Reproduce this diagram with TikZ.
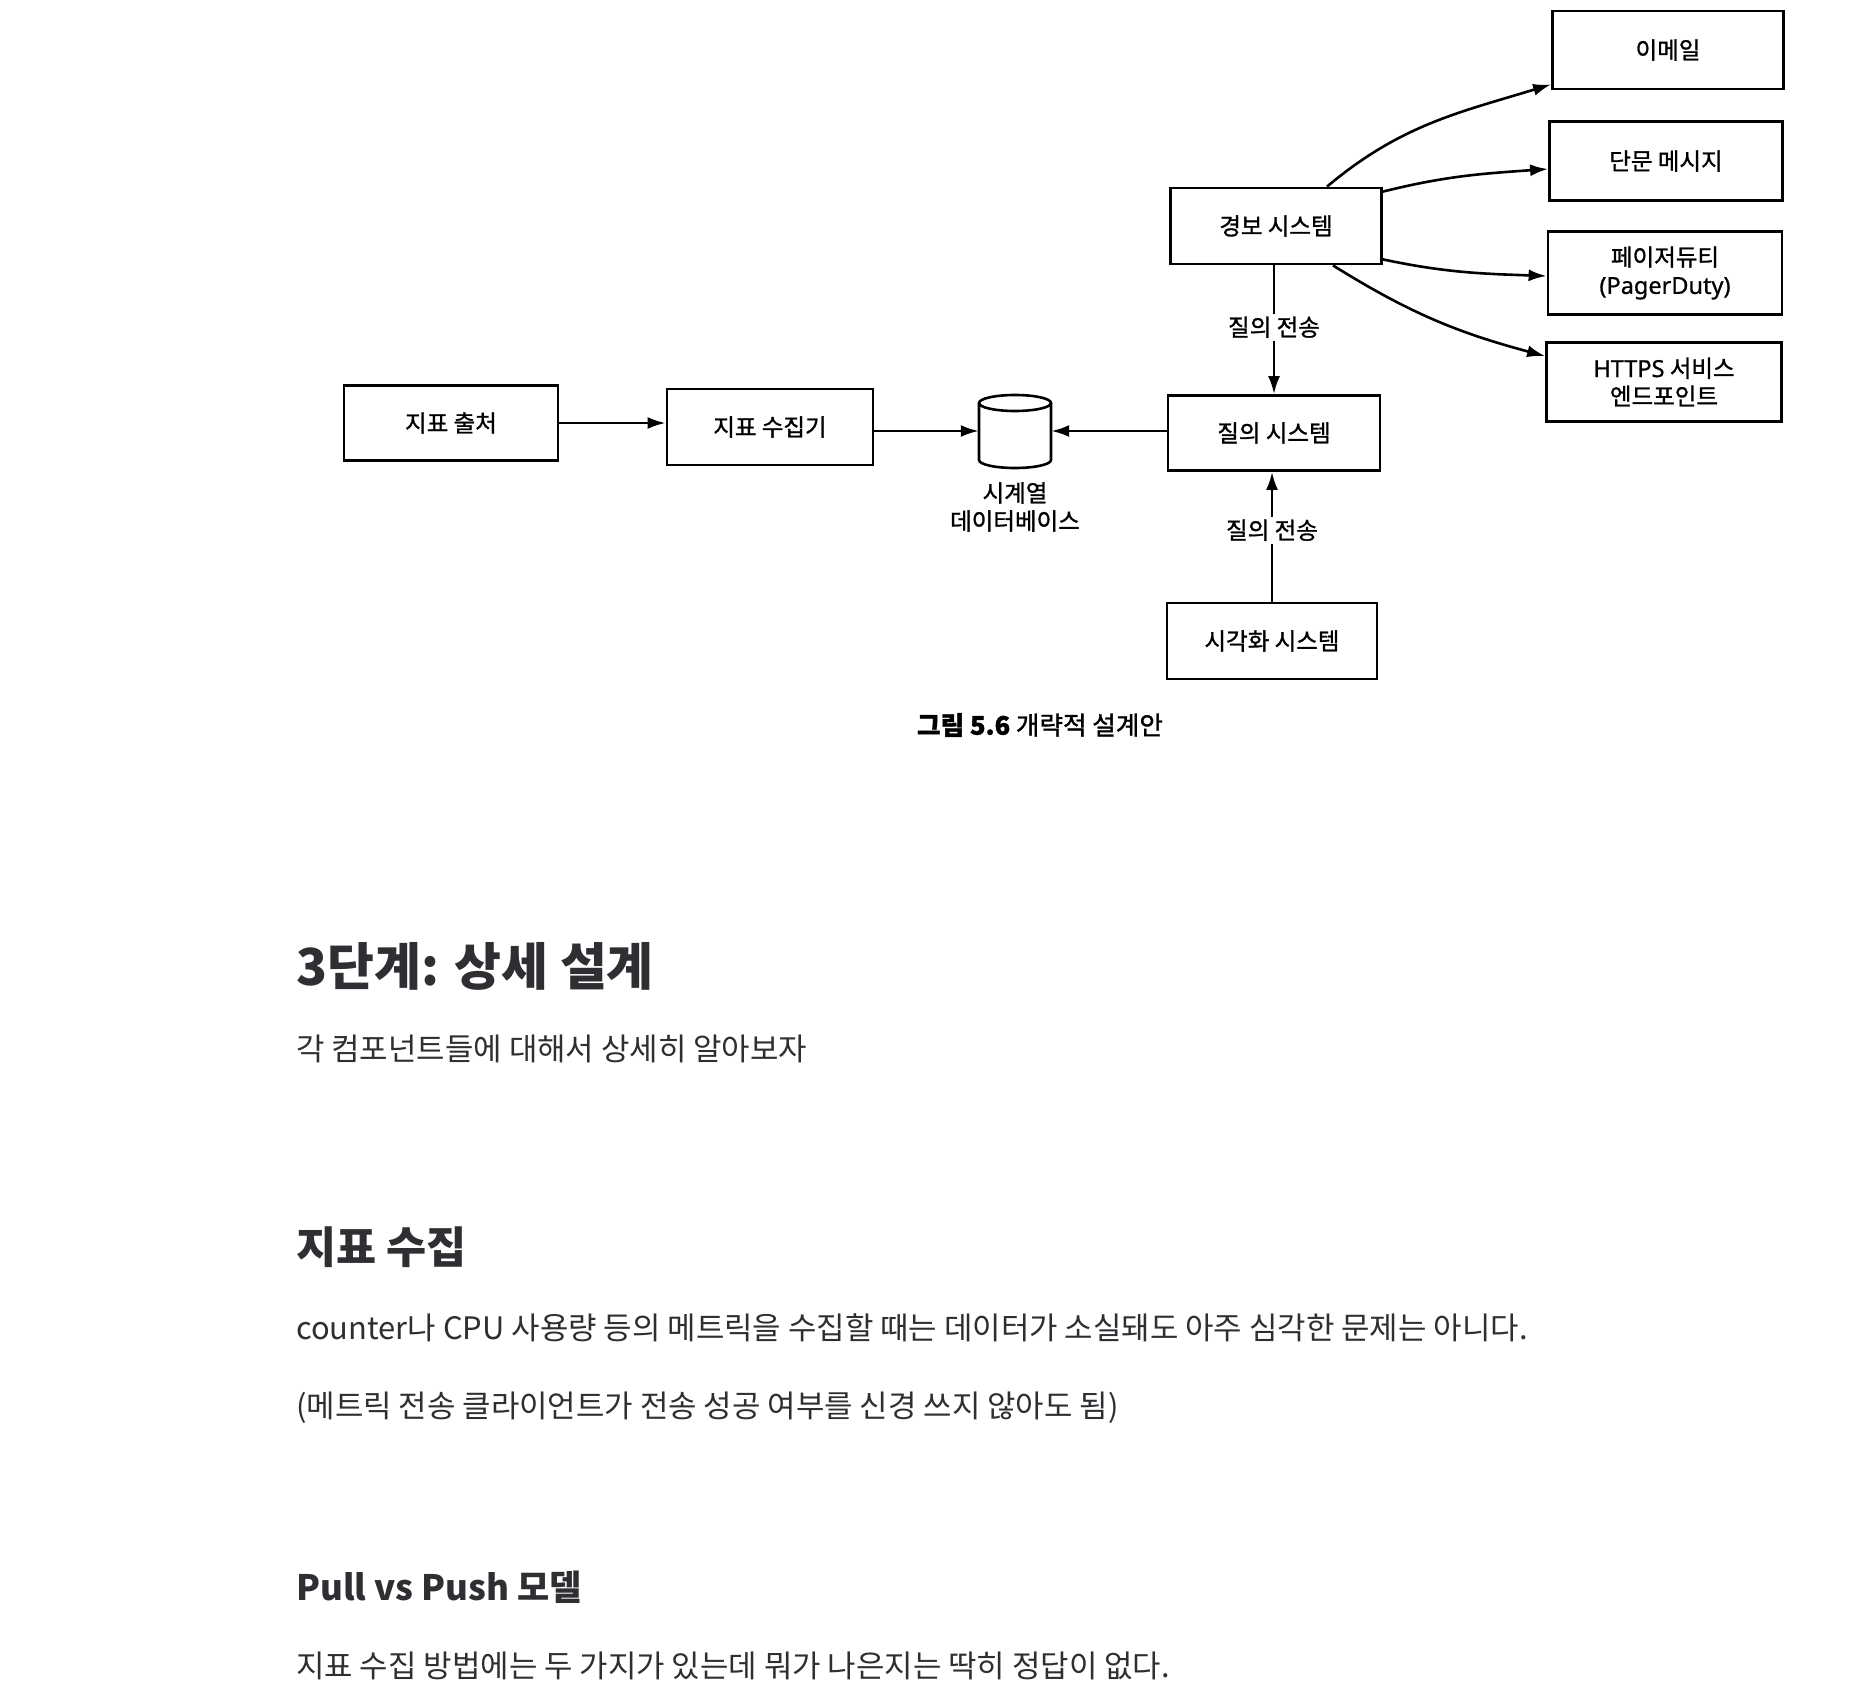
\documentclass[tikz,border=0pt]{standalone}
\usepackage{fontspec}
\setmainfont{Noto Sans CJK KR}
\newfontfamily\dfam[FakeBold=1.2]{Noto Sans CJK KR}
\newfontfamily\dlat[FakeBold=0.8]{Noto Sans}
\usetikzlibrary{arrows.meta}
\definecolor{bodytxt}{HTML}{2E2E33}
\newcommand\dfont{\dfam\fontsize{23.5}{28}\selectfont}
\newcommand\bodyfont{\fontsize{30.9}{36}\selectfont}
\begin{document}
\begin{tikzpicture}[x=1pt,y=1pt,
  box/.style={draw, line width=2.8pt, inner sep=0pt, font=\dfont, align=center},
  arr/.style={line width=2.6pt, -{Latex[length=18pt,width=12pt]}},
  lbl/.style={fill=white, inner sep=3pt, font=\dfont},
  bodytext/.style={anchor=base west, inner sep=0pt, text=bodytxt}]
\useasboundingbox[fill=white] (0,0) rectangle (1854,-1696);

% diagram nodes
\node[box, minimum width=214pt, minimum height=75pt] (src) at (451,-423) {지표 출처};
\node[box, minimum width=206pt, minimum height=76pt] (coll) at (770,-427) {지표 수집기};
\node[minimum width=72pt, minimum height=73pt, inner sep=0pt] (db) at (1015,-431) {};
\node[font=\dfont, align=center, inner sep=0pt] (dblabel) at (1015,-507) {시계열\\데이터베이스};
\node[box, minimum width=212pt, minimum height=75pt] (query) at (1274,-433) {질의 시스템};
\node[box, minimum width=211pt, minimum height=76pt] (alert) at (1276,-226) {경보 시스템};
\node[box, minimum width=210pt, minimum height=76pt] (viz) at (1272,-641) {시각화 시스템};
\node[box, minimum width=231pt, minimum height=78pt] (email) at (1668,-50) {이메일};
\node[box, minimum width=233pt, minimum height=79pt] (sms) at (1666,-161) {단문 메시지};
\node[box, minimum width=234pt, minimum height=83pt] (pager) at (1665,-273) {페이저듀티\\{\dlat(PagerDuty)}};
\node[box, minimum width=235pt, minimum height=79pt] (https) at (1664,-382) {{\dlat HTTPS} 서비스\\엔드포인트};

% cylinder
\draw[line width=2.6pt] (1015,-403) ellipse [x radius=36, y radius=8];
\draw[line width=2.6pt] (979,-403) -- (979,-460) arc[start angle=180, end angle=360, x radius=36, y radius=8] -- (1051,-403);

% connectors
\draw[arr] (src.east) -- (coll.west |- src.east);
\draw[arr] (coll.east |- db.west) -- (db.west);
\draw[arr] (query.west |- db.east) -- (db.east);
\draw[arr] (query.north |- alert.south) -- node[lbl, pos=0.48] {질의 전송} (query.north);
\draw[arr] (viz.north) -- node[lbl, pos=0.55] {질의 전송} (query.south -| viz.north);
\draw[arr] ([xshift=51pt]alert.north) to[out=40, in=197] ([yshift=6pt]email.south west);
\draw[arr] ([yshift=-5pt]alert.north east) to[out=14, in=184] ([yshift=-8pt]sms.west);
\draw[arr] ([yshift=6pt]alert.south east) to[out=-12, in=178] ([yshift=-3pt]pager.west);
\draw[arr] ([xshift=57pt]alert.south) to[out=-32, in=165] ([yshift=-15pt]https.north west);

% caption
\node[inner sep=0pt] (cap) at (1040,-725) {\dfam\fontsize{25.6}{30}\selectfont{\bfseries 그림 5.6} 개략적 설계안};

% body text
\node[bodytext, font=\fontsize{51}{60}\selectfont\bfseries] (h1) at (296,-985) {3단계: 상세 설계};
\node[bodytext, font=\bodyfont] (p1) at (296,-1060) {각 컴포넌트들에 대해서 상세히 알아보자};
\node[bodytext, font=\fontsize{43.6}{50}\selectfont\bfseries] (h2) at (296,-1263) {지표 수집};
\node[bodytext, font=\bodyfont] (p2) at (296,-1339) {counter나 CPU 사용량 등의 메트릭을 수집할 때는 데이터가 소실돼도 아주 심각한 문제는 아니다.};
\node[bodytext, font=\bodyfont] (p3) at (296,-1417) {(메트릭 전송 클라이언트가 전송 성공 여부를 신경 쓰지 않아도 됨)};
\node[bodytext, font=\fontsize{35}{42}\selectfont\bfseries] (h3) at (296,-1600) {Pull vs Push 모델};
\node[bodytext, font=\bodyfont] (p4) at (296,-1677) {지표 수집 방법에는 두 가지가 있는데 뭐가 나은지는 딱히 정답이 없다.};
\end{tikzpicture}
\end{document}
